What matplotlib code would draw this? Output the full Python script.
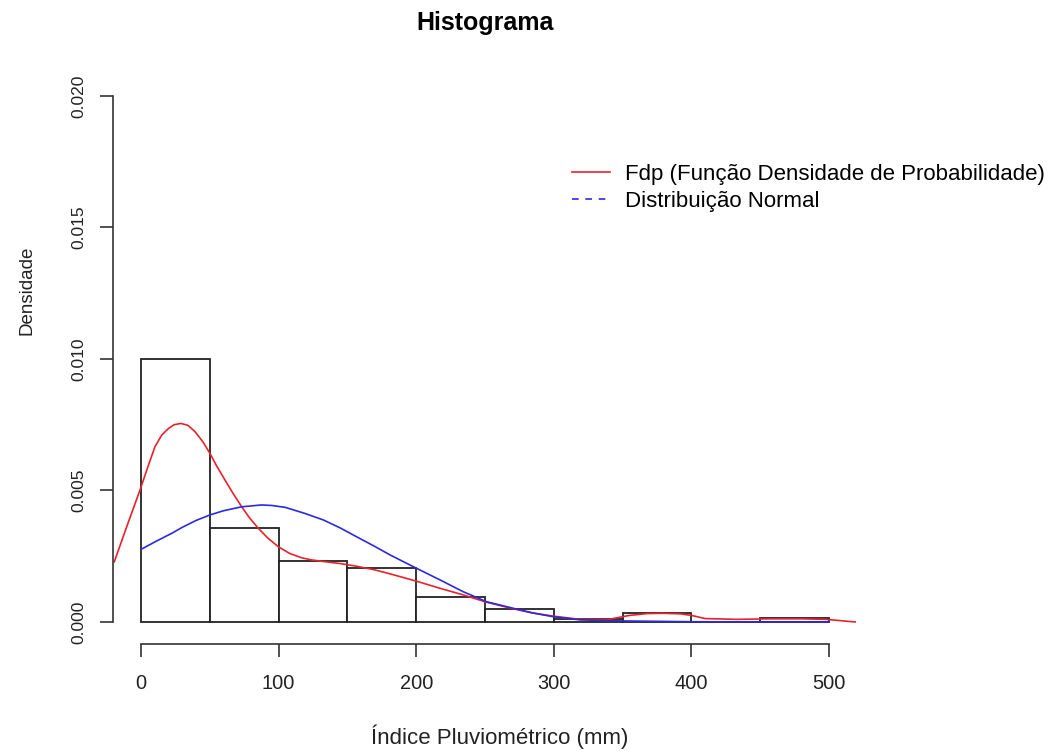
import numpy as np
import matplotlib
matplotlib.use("Agg")
import matplotlib.pyplot as plt
from matplotlib.lines import Line2D

plt.rcParams['font.family'] = ['Liberation Sans', 'DejaVu Sans']

# histogram (density per 50 mm class)
bin_edges = [0, 50, 100, 150, 200, 250, 300, 350, 400, 450, 500]
bin_density = [0.0100, 0.00357, 0.00233, 0.00204, 0.00094, 0.00049,
               0.00010, 0.00033, 0.0, 0.00014]

# estimated density curve
kde_x = [-19.4, -10.4, -0.7, 5, 10.2, 15, 19.8, 24, 29, 34, 39.2, 45, 50.1,
         55, 61, 67, 73.2, 79, 85.3, 92, 99.8, 108.3, 116.8, 124, 132.5,
         145, 156.7, 170, 181, 200.3, 217.3, 234.2, 251.2, 270.6, 285, 300,
         319, 340, 355, 368, 379, 392, 400, 410, 433, 457, 480, 498, 519]
kde_y = [0.00229, 0.00362, 0.00502, 0.00590, 0.00667, 0.00710, 0.00735,
         0.00750, 0.00755, 0.00748, 0.00724, 0.00685, 0.00641, 0.00593,
         0.0054, 0.00488, 0.00438, 0.00395, 0.00356, 0.00320, 0.00286,
         0.00260, 0.00244, 0.00236, 0.00230, 0.00222, 0.00212, 0.00198,
         0.00183, 0.00155, 0.00128, 0.00103, 0.00075, 0.0005, 0.00034,
         0.00022, 0.0001, 0.0001, 0.00025, 0.00032, 0.00033, 0.00031,
         0.00025, 0.00013, 0.0001, 0.00012, 0.00012, 0.0001, 0.0]

# normal curve
norm_x = [0, 11, 22.3, 30, 40, 50.1, 60, 73.2, 87.7, 95, 104.7, 119, 132.5,
          145, 156.7, 170, 181, 200.3, 217.3, 234.2, 251.2, 270.6, 285,
          299.7, 319, 350, 400, 450, 500]
norm_y = [0.00276, 0.00307, 0.00337, 0.00360, 0.00386, 0.00407, 0.00423,
          0.00438, 0.00445, 0.00443, 0.00436, 0.00413, 0.00388, 0.00357,
          0.00324, 0.00287, 0.00255, 0.00204, 0.0016, 0.00115, 0.00077,
          0.00052, 0.00034, 0.0002, 0.00008, 0.00004, 0.00001, 0.0, 0.0]

y_ticks = [0.000, 0.005, 0.010, 0.015, 0.020]
x_ticks = [0, 100, 200, 300, 400, 500]

W, H = 1053, 753
fig = plt.figure(figsize=(W / 100, H / 100), dpi=100)
ax = fig.add_axes([113 / W, (H - 644) / H, (870 - 113) / W, (644 - 75) / H])

ax.bar(bin_edges[:-1], bin_density, width=np.diff(bin_edges), align='edge',
       color='white', edgecolor='#222222', linewidth=1.3)
ax.plot(kde_x, kde_y, color='#e8222c', lw=1.2)
ax.plot(norm_x, norm_y, color='#2a2ae0', lw=1.2)

ax.set_xlim(-20.35, 529.8)
ax.set_ylim(-0.000837, 0.020798)

for s in ['top', 'right']:
    ax.spines[s].set_visible(False)
ax.spines['left'].set_bounds(0, 0.02)
ax.spines['bottom'].set_bounds(0, 500)
for s in ['left', 'bottom']:
    ax.spines[s].set_color('#333333')
    ax.spines[s].set_linewidth(1.2)

ax.set_xticks(x_ticks)
ax.set_xticklabels([str(v) for v in x_ticks])
ax.set_yticks(y_ticks)
ax.set_yticklabels([f'{v:.3f}' for v in y_ticks], rotation=90, va='center')
ax.tick_params(axis='both', length=9.4, width=1.2, color='#333333',
               labelcolor='#222222')
ax.tick_params(axis='x', labelsize=14.4, pad=12)
ax.tick_params(axis='y', labelsize=12.5, pad=10)

fig.text(485 / W, 1 - 23 / H, 'Histograma', ha='center', va='center',
         fontsize=18, fontweight='bold')
fig.text(500 / W, 1 - 737 / H, 'Índice Pluviométrico (mm)', ha='center',
         va='center', fontsize=16, color='#222222')
fig.text(27 / W, 1 - 290 / H, 'Densidade', ha='center', va='center',
         rotation=90, fontsize=13.5, color='#222222')

handles = [Line2D([], [], color='#e8222c', lw=1.2),
           Line2D([], [], color='#2a2ae0', lw=1.2, dashes=(4, 4))]
labels = ['Fdp (Função Densidade de Probabilidade)', 'Distribuição Normal']
ax.legend(handles, labels, loc='upper left',
          bbox_to_anchor=(572 / W, 1 - 164 / H), bbox_transform=fig.transFigure,
          frameon=False, fontsize=16, handlelength=1.7, handletextpad=0.68,
          borderpad=0, borderaxespad=0, labelspacing=0.28)

fig.savefig('out.png', dpi=100)
